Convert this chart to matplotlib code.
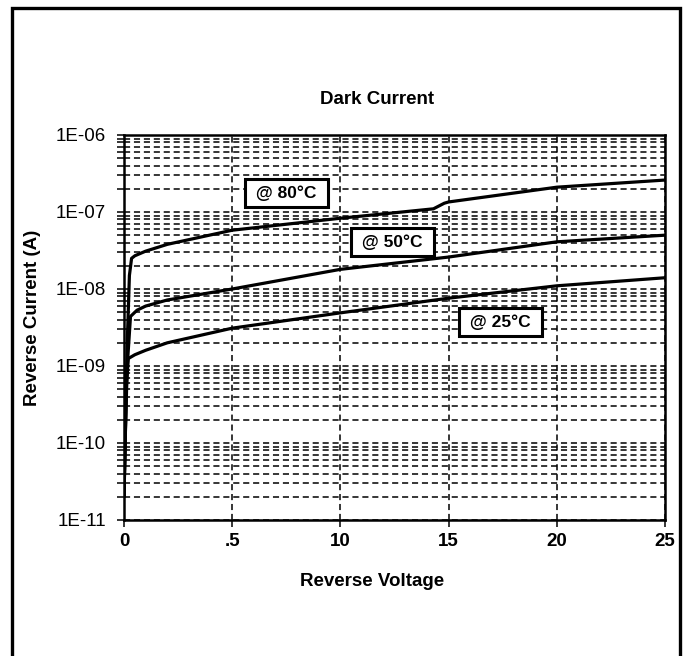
import numpy as np
import matplotlib.pyplot as plt
from matplotlib.patches import Rectangle
from matplotlib.ticker import LogLocator, FixedLocator, NullFormatter

plt.rcParams['font.family'] = ['Liberation Sans', 'DejaVu Sans']

# reverse voltage (V) and dark current (A)
v_80 = [0.0, 0.05, 0.15, 0.25, 0.35, 0.5, 1, 2, 5, 10, 14.3, 14.8, 15, 20, 25]
i_80 = [2e-11, 1e-10, 2e-9, 1.5e-8, 2.5e-8, 2.7e-8, 3.1e-8, 3.8e-8, 5.8e-8, 8.3e-8, 1.1e-7, 1.3e-7, 1.35e-7, 2.1e-7, 2.6e-7]

v_50 = [0.0, 0.05, 0.15, 0.3, 0.6, 1, 2, 5, 10, 15, 20, 25]
i_50 = [2e-11, 1e-10, 1e-9, 4.4e-9, 5.3e-9, 6e-9, 7.2e-9, 1.0e-8, 1.8e-8, 2.6e-8, 4.1e-8, 5.0e-8]

v_25 = [0.0, 0.05, 0.1, 0.2, 0.5, 1, 2, 5, 10, 15, 20, 25]
i_25 = [2e-11, 8e-11, 5e-10, 1.25e-9, 1.4e-9, 1.6e-9, 2.0e-9, 3.1e-9, 4.9e-9, 7.6e-9, 1.1e-8, 1.4e-8]

labels = [' @ 80°C ', ' @ 50°C ', ' @ 25°C ']
label_pos = [(7.5, 1.75e-7), (12.4, 4.1e-8), (17.4, 3.7e-9)]

x_ticks = [0, 5, 10, 15, 20, 25]
x_tick_labels = ['0', '.5', '10', '15', '20', '25']
y_ticks = [1e-11, 1e-10, 1e-9, 1e-8, 1e-7, 1e-6]
y_tick_labels = ['1E-11', '1E-10', '1E-09', '1E-08', '1E-07', '1E-06']

fig = plt.figure(figsize=(6.84, 6.56), dpi=100)
ax = fig.add_axes([124 / 684, 1 - 520 / 656, 541 / 684, 385 / 656])

for v, i in [(v_80, i_80), (v_50, i_50), (v_25, i_25)]:
    ax.plot(v, i, color='black', lw=2.3, solid_capstyle='round')

ax.set_yscale('log')
ax.set_xlim(0, 25)
ax.set_ylim(1e-11, 1e-6)

ax.xaxis.set_major_locator(FixedLocator(x_ticks))
ax.set_xticklabels(x_tick_labels, fontweight='bold')
ax.yaxis.set_major_locator(FixedLocator(y_ticks))
ax.set_yticklabels(y_tick_labels)
ax.yaxis.set_minor_locator(LogLocator(base=10, subs=np.arange(2, 10)))
ax.yaxis.set_minor_formatter(NullFormatter())

ax.grid(True, which='major', axis='x', color='black', ls=(0, (4, 2.5)), lw=1.1)
ax.grid(True, which='both', axis='y', color='black', ls=(0, (4, 2.5)), lw=1.1)
ax.tick_params(axis='both', which='both', direction='out', length=5, width=1.1, labelsize=13.5)
ax.tick_params(axis='x', pad=4)
ax.tick_params(axis='y', pad=8)
for s in ax.spines.values():
    s.set_linewidth(1.8)

for txt, (x, y) in zip(labels, label_pos):
    ax.text(x, y, txt, ha='center', va='center', fontsize=12.5, fontweight='bold',
            bbox=dict(boxstyle='square,pad=0.35', fc='white', ec='black', lw=2.2))

fig.text(377 / 684, 1 - 100 / 656, 'Dark Current', ha='center', va='center',
         fontsize=13.5, fontweight='bold')
fig.text(372 / 684, 1 - 582 / 656, 'Reverse Voltage', ha='center', va='center',
         fontsize=13.5, fontweight='bold')
fig.text(33 / 684, 1 - 318 / 656, 'Reverse Current (A)', ha='center', va='center',
         rotation=90, fontsize=13.5, fontweight='bold')

# outer frame, open at the bottom edge of the image
fig.patches.append(Rectangle((12 / 684, -0.05), 668 / 684, 1.05 - 8 / 656,
                             transform=fig.transFigure, fill=False, ec='black', lw=2.4))

fig.savefig('out.png', dpi=100)
